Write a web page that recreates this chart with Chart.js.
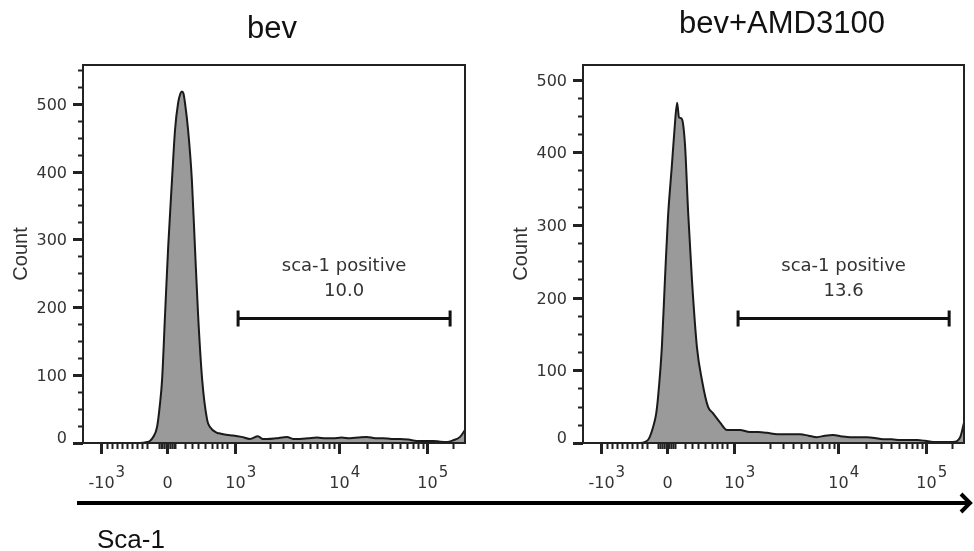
<!DOCTYPE html>
<html>
<head>
<meta charset="utf-8">
<script src="https://cdn.jsdelivr.net/npm/chart.js@4.4.0/dist/chart.umd.min.js"></script>
<style>
  body { margin: 0; background: #fff; }
  #wrap { position: relative; width: 974px; height: 551px; overflow: hidden; }
  canvas { position: absolute; top: 0; }
  #left { left: 0; }
  #right { left: 487px; }
  svg { position: absolute; left: 0; top: 0; pointer-events: none; }
</style>
</head>
<body>
<div id="wrap">
  <canvas id="left" width="487" height="500"></canvas>
  <canvas id="right" width="487" height="500"></canvas>
  <svg width="974" height="551">
    <g font-family="Liberation Sans, Arial, sans-serif" fill="#111">
      <text x="272" y="38" font-size="31" text-anchor="middle">bev</text>
      <text x="782" y="33" font-size="31" text-anchor="middle">bev+AMD3100</text>
      <text x="97" y="548" font-size="26">Sca-1</text>
    </g>
    <line x1="77" y1="503" x2="969" y2="503" stroke="#000" stroke-width="4"/>
    <polyline points="961,494 970,503 961,512" fill="none" stroke="#000" stroke-width="4"/>
  </svg>
</div>
<script>
// channel positions (0..1000 across the plot) and event counts
const channelsBev = [0, 149, 168, 175, 183, 194, 201, 207, 215, 223, 233, 241, 249, 255, 259, 263, 267, 275, 285, 293,
  301, 312, 325, 332, 351, 359, 375, 393, 415, 437, 458, 470, 482, 505, 534, 550, 568, 590, 613, 635, 654, 677, 699,
  720, 743, 765, 785, 808, 830, 852, 874, 895, 916, 935, 953, 969, 987, 1000];
const countsBev = [0, 0, 1.5, 3, 8, 24, 55, 93, 192, 289, 388, 462, 501, 515, 518, 515, 501, 462, 388, 289,
  192, 93, 34, 24, 15, 14, 12, 11, 9, 6, 10, 6, 6, 7, 9, 6, 6, 7, 8, 7, 7, 8, 7,
  8, 9, 7, 7, 6, 6, 5, 3, 3, 3, 2, 1.5, 4, 9, 19];

const channelsAmd = [0, 150, 163, 173, 184, 192, 197, 207, 215, 223, 233, 240, 247, 252, 257, 262, 268, 276, 286,
  299, 312, 328, 341, 360, 378, 395, 412, 438, 460, 483, 510, 535, 552, 570, 592, 614, 635, 656, 680, 701, 722, 745,
  766, 787, 810, 832, 855, 877, 898, 919, 945, 971, 990, 1000];
const countsAmd = [0, 0, 1.4, 6, 22, 40, 63, 132, 224, 310, 380, 430, 468, 448, 447, 441, 408, 317, 224,
  132, 87, 50, 41, 28, 18, 18, 18, 15, 15, 14, 12, 12, 12, 12, 10, 8, 10, 11, 9, 8, 8, 8,
  7, 5, 5, 4, 4, 4, 3, 1.4, 1.4, 1.4, 8, 28];

// axis ticks, in the same channel units
const xMajorChannels = [47, 220, 397, 670, 901];
const xMajorBase = ['-10', '0', '10', '10', '10'];
const xMajorExp = ['3', '', '3', '4', '5'];
const xMinorChannels = [63, 76, 89, 102, 115, 128, 141, 154, 168,
  198, 203, 208, 213, 217, 223, 227, 232, 237, 242,
  267, 285, 301, 319, 338, 351, 364, 377,
  490, 524, 550, 573, 594, 613, 628, 645, 658,
  743, 783, 809, 830, 848, 864, 877, 890, 968];
const countTicks = [0, 100, 200, 300, 400, 500];
const countMinorStep = 25;

// gates: channel range, count level, percentage
const gateBev = [406, 961];
const gateBevLevel = 184;
const gateAmd = [407, 961];
const gateAmdLevel = 172;
const pctBev = '10.0';
const pctAmd = '13.6';
const gateName = 'sca-1 positive';

const flowAxes = {
  id: 'flowAxes',
  afterDraw(chart, args, opts) {
    const { ctx, chartArea: a, scales: { x, y } } = chart;
    ctx.save();
    ctx.strokeStyle = '#222';
    ctx.lineWidth = 2;
    ctx.strokeRect(a.left, a.top, a.right - a.left, a.bottom - a.top);

    // count axis
    ctx.fillStyle = '#333';
    ctx.font = '16px "DejaVu Sans"';
    ctx.textAlign = 'right';
    ctx.textBaseline = 'middle';
    for (let v = 0; v <= y.max; v += countMinorStep) {
      const py = Math.round(y.getPixelForValue(v)) + 0.5;
      const major = countTicks.includes(v);
      ctx.lineWidth = major ? 3 : 2;
      ctx.beginPath();
      ctx.moveTo(a.left - (major ? 10 : 5), py);
      ctx.lineTo(a.left, py);
      ctx.stroke();
      if (major) ctx.fillText(String(v), a.left - 16, v === 0 ? py - 5 : py + 1);
    }
    ctx.save();
    ctx.translate(a.left - 62, (a.top + a.bottom) / 2);
    ctx.rotate(-Math.PI / 2);
    ctx.textAlign = 'center';
    ctx.font = '20px "Liberation Sans"';
    ctx.fillText('Count', 0, 0);
    ctx.restore();

    // channel axis
    xMinorChannels.forEach(c => {
      const px = Math.round(x.getPixelForValue(c)) + 0.5;
      ctx.lineWidth = 2;
      ctx.beginPath();
      ctx.moveTo(px, a.bottom);
      ctx.lineTo(px, a.bottom + 6);
      ctx.stroke();
    });
    ctx.textBaseline = 'alphabetic';
    xMajorChannels.forEach((c, i) => {
      const px = Math.round(x.getPixelForValue(c)) + 0.5;
      ctx.lineWidth = 3;
      ctx.beginPath();
      ctx.moveTo(px, a.bottom);
      ctx.lineTo(px, a.bottom + 11);
      ctx.stroke();
      ctx.font = '16px "DejaVu Sans"';
      ctx.textAlign = 'center';
      ctx.fillText(xMajorBase[i], px, a.bottom + 45);
      if (xMajorExp[i]) {
        const w = ctx.measureText(xMajorBase[i]).width;
        ctx.font = '15px "DejaVu Sans"';
        ctx.textAlign = 'left';
        ctx.fillText(xMajorExp[i], px + w / 2 + 1, a.bottom + 34);
      }
    });

    // gate
    const gx1 = x.getPixelForValue(opts.gate[0]);
    const gx2 = x.getPixelForValue(opts.gate[1]);
    const gy = Math.round(y.getPixelForValue(opts.level)) + 0.5;
    ctx.strokeStyle = '#111';
    ctx.lineWidth = 3;
    ctx.beginPath();
    ctx.moveTo(gx1, gy); ctx.lineTo(gx2, gy);
    ctx.moveTo(gx1, gy - 8); ctx.lineTo(gx1, gy + 8);
    ctx.moveTo(gx2, gy - 8); ctx.lineTo(gx2, gy + 8);
    ctx.stroke();
    ctx.font = '18px "DejaVu Sans"';
    ctx.textAlign = 'center';
    ctx.fillStyle = '#333';
    const cx = (gx1 + gx2) / 2;
    ctx.fillText(gateName, cx, gy - 48);
    ctx.fillText(opts.pct, cx, gy - 23);
    ctx.restore();
  }
};

function makeHist(id, channels, counts, yMax, padding, gate, level, pct) {
  return new Chart(document.getElementById(id), {
    type: 'line',
    data: {
      datasets: [{
        data: channels.map((c, i) => ({ x: c, y: counts[i] })),
        borderColor: '#1a1a1a',
        borderWidth: 2,
        backgroundColor: '#9a9a9a',
        fill: 'origin',
        pointRadius: 0,
        cubicInterpolationMode: 'monotone',
      }],
    },
    options: {
      responsive: false,
      animation: false,
      devicePixelRatio: 1,
      layout: { padding },
      scales: {
        x: { type: 'linear', min: 0, max: 1000, display: false },
        y: { type: 'linear', min: 0, max: yMax, display: false },
      },
      plugins: {
        legend: { display: false },
        tooltip: { enabled: false },
        flowAxes: { gate, level, pct },
      },
    },
    plugins: [flowAxes],
  });
}

makeHist('left', channelsBev, countsBev, 557, { left: 83, right: 22, top: 65, bottom: 57 }, gateBev, gateBevLevel, pctBev);
makeHist('right', channelsAmd, countsAmd, 520, { left: 96, right: 10, top: 65, bottom: 57 }, gateAmd, gateAmdLevel, pctAmd);
</script>
</body>
</html>
